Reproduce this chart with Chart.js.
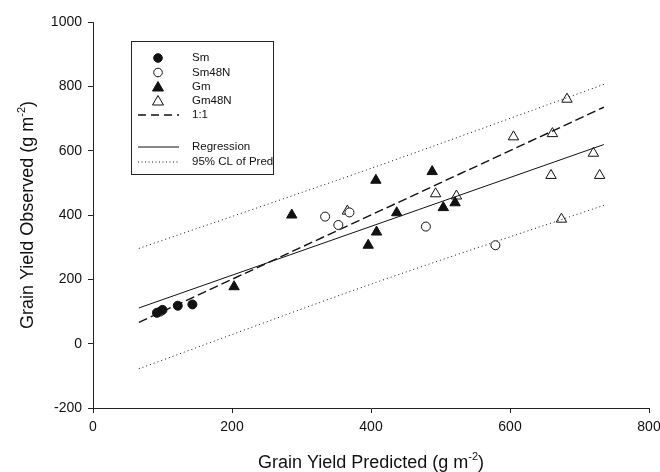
<!DOCTYPE html>
<html>
<head>
<meta charset="utf-8">
<script src="https://cdn.jsdelivr.net/npm/chart.js@4/dist/chart.umd.min.js"></script>
<style>
  html, body { margin: 0; padding: 0; background: #fff; }
  #wrap { width: 660px; height: 472px; }
</style>
</head>
<body>
<div id="wrap"><canvas id="yieldChart" width="660" height="472"></canvas></div>
<script>
// predicted (x) vs observed (y) grain yield, g m-2
var smX = [92, 100, 122, 143];
var smY = [96, 105, 118, 122];

var sm48nX = [97, 334, 353, 369, 479, 579];
var sm48nY = [100, 395, 369, 408, 364, 306];

var gmX = [203, 286, 396, 407, 408, 437, 488, 504, 521];
var gmY = [177, 400, 306, 508, 347, 407, 535, 423, 438];

var gm48nX = [366, 493, 523, 605, 661, 659, 674, 682, 720, 729];
var gm48nY = [412, 466, 459, 643, 653, 523, 387, 760, 592, 523];

// fitted lines
var lineX = [66, 735];
var oneToOneY = [66, 735];
var regressionY = [111, 619];
var clX = [66, 400, 735];
var clUpperY = [296, 545, 806];
var clLowerY = [-78, 185, 430];

var xTicks = [0, 200, 400, 600, 800];
var yTicks = [-200, 0, 200, 400, 600, 800, 1000];

var FONT = "'Liberation Sans', Arial, sans-serif";

function pts(xs, ys) {
    return xs.map(function (x, i) { return { x: x, y: ys[i] }; });
}

// legend box + axis titles with superscripts
var decorPlugin = {
    id: 'decor',
    afterDraw: function (chart) {
        var ctx = chart.ctx;
        var area = chart.chartArea;
        ctx.save();

        // legend frame
        ctx.strokeStyle = '#222';
        ctx.lineWidth = 1;
        ctx.strokeRect(131.5, 41.5, 142, 133);

        var mx = 158, tx = 192;
        var rows = [
            { y: 58, label: 'Sm', kind: 'circle', fill: true },
            { y: 72.5, label: 'Sm48N', kind: 'circle', fill: false },
            { y: 87, label: 'Gm', kind: 'tri', fill: true },
            { y: 101, label: 'Gm48N', kind: 'tri', fill: false },
            { y: 115, label: '1:1', kind: 'dash' },
            { y: 147, label: 'Regression', kind: 'solid' },
            { y: 162, label: '95% CL of Pred', kind: 'dot' }
        ];
        ctx.font = '11.5px ' + FONT;
        ctx.textBaseline = 'middle';
        ctx.textAlign = 'left';
        rows.forEach(function (r) {
            ctx.fillStyle = '#111';
            ctx.fillText(r.label, tx, r.y);
            ctx.strokeStyle = '#111';
            ctx.lineWidth = 1;
            ctx.setLineDash([]);
            if (r.kind === 'circle') {
                ctx.beginPath();
                ctx.arc(mx, r.y, 4.3, 0, Math.PI * 2);
                ctx.fillStyle = r.fill ? '#111' : '#fff';
                ctx.fill();
                ctx.stroke();
            } else if (r.kind === 'tri') {
                ctx.beginPath();
                ctx.moveTo(mx, r.y - 5.5);
                ctx.lineTo(mx + 5.5, r.y + 4);
                ctx.lineTo(mx - 5.5, r.y + 4);
                ctx.closePath();
                ctx.fillStyle = r.fill ? '#111' : '#fff';
                ctx.fill();
                ctx.stroke();
            } else {
                ctx.beginPath();
                if (r.kind === 'dash') { ctx.setLineDash([8, 5]); ctx.lineWidth = 1.3; }
                if (r.kind === 'dot') ctx.setLineDash([1, 2.5]);
                ctx.moveTo(138, r.y);
                ctx.lineTo(179, r.y);
                ctx.stroke();
            }
        });
        ctx.setLineDash([]);

        // axis titles
        function titled(x, y, rot, main, sup, tail) {
            ctx.save();
            ctx.translate(x, y);
            ctx.rotate(rot);
            ctx.fillStyle = '#111';
            ctx.textBaseline = 'alphabetic';
            ctx.textAlign = 'left';
            ctx.font = '18px ' + FONT;
            var w1 = ctx.measureText(main).width;
            var w3 = ctx.measureText(tail).width;
            ctx.font = '11px ' + FONT;
            var w2 = ctx.measureText(sup).width;
            var total = w1 + w2 + w3;
            var sx = -total / 2;
            ctx.font = '18px ' + FONT;
            ctx.fillText(main, sx, 0);
            ctx.font = '11px ' + FONT;
            ctx.fillText(sup, sx + w1, -8);
            ctx.font = '18px ' + FONT;
            ctx.fillText(tail, sx + w1 + w2, 0);
            ctx.restore();
        }
        titled((area.left + area.right) / 2, 468, 0, 'Grain Yield Predicted (g m', '-2', ')');
        titled(33, (area.top + area.bottom) / 2, -Math.PI / 2, 'Grain Yield Observed (g m', '-2', ')');

        ctx.restore();
    }
};

var ctx = document.getElementById('yieldChart').getContext('2d');

new Chart(ctx, {
    type: 'scatter',
    data: {
        datasets: [
            {
                label: 'Sm',
                data: pts(smX, smY),
                pointStyle: 'circle',
                pointRadius: 4.5,
                backgroundColor: '#111',
                borderColor: '#111',
                borderWidth: 1
            },
            {
                label: 'Sm48N',
                data: pts(sm48nX, sm48nY),
                pointStyle: 'circle',
                pointRadius: 4.5,
                backgroundColor: '#fff',
                borderColor: '#111',
                borderWidth: 1
            },
            {
                label: 'Gm',
                data: pts(gmX, gmY),
                pointStyle: 'triangle',
                pointRadius: 6,
                backgroundColor: '#111',
                borderColor: '#111',
                borderWidth: 1
            },
            {
                label: 'Gm48N',
                data: pts(gm48nX, gm48nY),
                pointStyle: 'triangle',
                pointRadius: 6,
                backgroundColor: 'rgba(255,255,255,0)',
                borderColor: '#111',
                borderWidth: 1
            },
            {
                type: 'line',
                label: '1:1',
                data: pts(lineX, oneToOneY),
                borderColor: '#111',
                borderWidth: 1.4,
                borderDash: [9, 4],
                pointRadius: 0,
                fill: false
            },
            {
                type: 'line',
                label: 'Regression',
                data: pts(lineX, regressionY),
                borderColor: '#111',
                borderWidth: 1,
                pointRadius: 0,
                fill: false
            },
            {
                type: 'line',
                label: '95% CL of Pred',
                data: pts(clX, clUpperY),
                borderColor: '#111',
                borderWidth: 1,
                borderDash: [1, 3],
                pointRadius: 0,
                tension: 0.3,
                fill: false
            },
            {
                type: 'line',
                label: '95% CL lower',
                data: pts(clX, clLowerY),
                borderColor: '#111',
                borderWidth: 1,
                borderDash: [1, 3],
                pointRadius: 0,
                tension: 0.3,
                fill: false
            }
        ]
    },
    options: {
        responsive: false,
        animation: false,
        layout: { padding: { top: 22, right: 11, bottom: 0, left: 0 } },
        plugins: {
            legend: { display: false },
            tooltip: { enabled: false }
        },
        scales: {
            x: {
                type: 'linear',
                min: 0,
                max: 800,
                afterBuildTicks: function (scale) {
                    scale.ticks = xTicks.map(function (v) { return { value: v }; });
                },
                afterFit: function (scale) {
                    scale.height = 64;
                    scale.paddingRight = 0;
                    scale.paddingLeft = 0;
                },
                grid: { display: true, drawOnChartArea: false, drawTicks: true, tickLength: 5, color: '#222' },
                border: { display: true, color: '#222', width: 1 },
                ticks: {
                    color: '#111', font: { family: FONT, size: 14 }, padding: 6, maxRotation: 0,
                    callback: function (v) { return String(v); }
                }
            },
            y: {
                type: 'linear',
                min: -200,
                max: 1000,
                afterBuildTicks: function (scale) {
                    scale.ticks = yTicks.map(function (v) { return { value: v }; });
                },
                afterFit: function (scale) { scale.width = 93; },
                grid: { display: true, drawOnChartArea: false, drawTicks: true, tickLength: 5, color: '#222' },
                border: { display: true, color: '#222', width: 1 },
                ticks: {
                    color: '#111', font: { family: FONT, size: 14 }, padding: 6,
                    callback: function (v) { return String(v); }
                }
            }
        }
    },
    plugins: [decorPlugin]
});
</script>
</body>
</html>
